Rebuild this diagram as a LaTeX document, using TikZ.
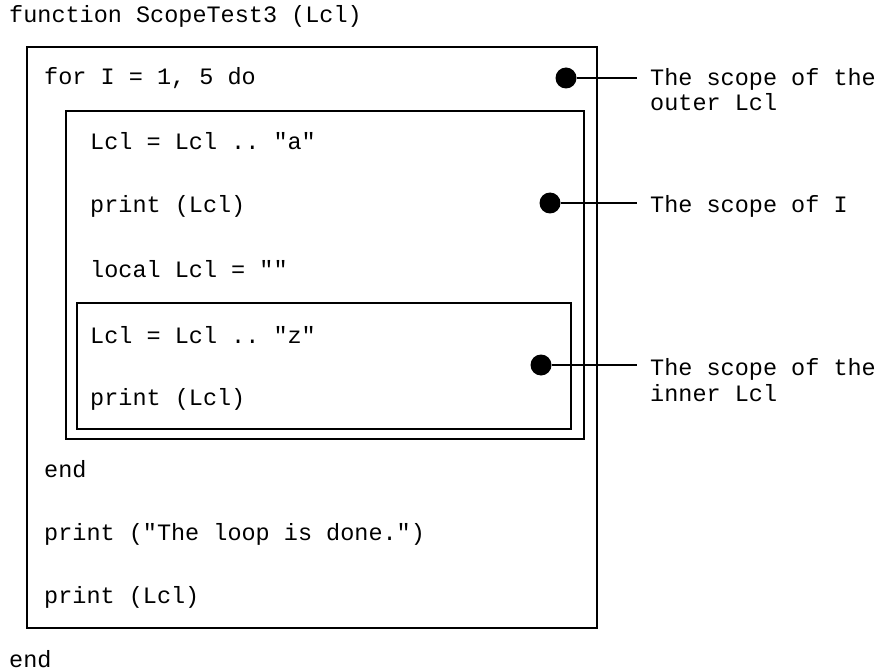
\documentclass[tikz,border=0pt]{standalone}
\usepackage{fontspec}
\setmonofont{Liberation Mono}
\usepackage{tikz}
\usetikzlibrary{positioning}
\tikzstyle{code}=[anchor=base west, inner sep=0pt, font=\ttfamily\fontsize{23.5}{26}\selectfont]
\tikzstyle{scopebox}=[draw, line width=1.1pt]
\tikzstyle{dot}=[circle, fill=black, inner sep=0pt, minimum size=21pt]
\tikzstyle{connect}=[line width=1.1pt]

\begin{document}
\begin{tikzpicture}[x=1pt, y=-1pt]
    \useasboundingbox (0,0) rectangle (886,671);

    % scope boxes
    \draw[scopebox] (27,47) rectangle (597,628);
    \draw[scopebox] (66,111) rectangle (584,439);
    \draw[scopebox] (77,303) rectangle (571,429);

    % function level
    \node[code] (fn) at (9,23) {function ScopeTest3 (Lcl)};
    \node[code] (fnend) at (9,667) {end};

    % outer box
    \node[code] (loop) at (44,85) {for I = 1, 5 do};
    \node[code] (loopend) at (44,477) {end};
    \node[code] (done) at (44,540) {print ("The loop is done.")};
    \node[code] (printouter) at (44,603) {print (Lcl)};

    % loop body
    \node[code] (cata) at (90,150) {Lcl = Lcl .. "a"};
    \node[code] (printloop) at (90,213) {print (Lcl)};
    \node[code] (decl) at (90,277) {local Lcl = ""};

    % inner box
    \node[code] (catz) at (90,343) {Lcl = Lcl .. "z"};
    \node[code] (printinner) at (90,405) {print (Lcl)};

    % scope markers
    \node[dot] (outerdot) at (566,78) {};
    \node[dot] (loopdot) at (550,203) {};
    \node[dot] (innerdot) at (541,365) {};
    \coordinate (outerend) at (637,78);
    \coordinate (loopend) at (637,203);
    \coordinate (innerend) at (637,365);

    % notes
    \node[code] (outernote) at (650,86) {The scope of the};
    \node[code] (outernotetwo) at (650,111) {outer Lcl};
    \node[code] (loopnote) at (650,213) {The scope of I};
    \node[code] (innernote) at (650,375) {The scope of the};
    \node[code] (innernotetwo) at (650,401) {inner Lcl};

    % Connect the markers
    \path
        (outerdot) edge [connect] (outerend)
        (loopdot) edge [connect] (loopend)
        (innerdot) edge [connect] (innerend)
        ;
\end{tikzpicture}
\end{document}
